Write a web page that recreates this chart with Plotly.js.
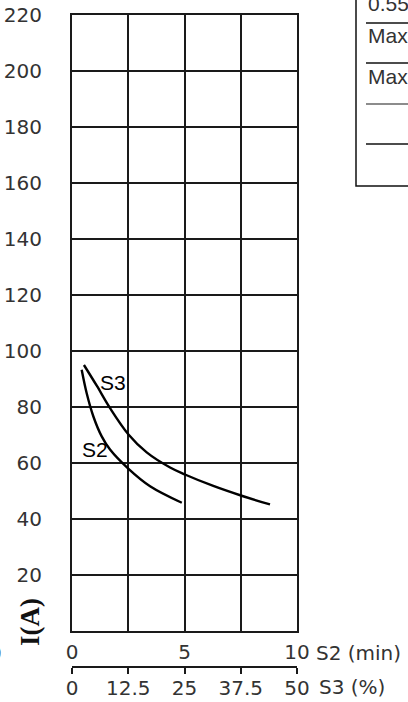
<!DOCTYPE html>
<html>
<head>
<meta charset="utf-8">
<script src="https://cdn.plot.ly/plotly-3.0.1.min.js"></script>
<style>html,body{margin:0;padding:0;background:#fff;}#chart{width:408px;height:702px;}</style>
</head>
<body>
<div id="chart"></div>
<script>
// Data
const s2X = [0.43, 0.65, 0.95, 1.32, 1.69, 2.50, 3.47, 4.88];
const s2Y = [93.3, 85.0, 76.6, 69.5, 64.8, 58.0, 51.7, 45.8];
const s3X = [0.53, 1.10, 1.69, 2.50, 3.32, 4.36, 5.02, 6.28, 7.54, 8.80];
const s3Y = [95.0, 87.6, 79.6, 70.3, 63.8, 58.4, 55.9, 51.8, 48.3, 45.2];
const yTicks = [0, 20, 40, 60, 80, 100, 120, 140, 160, 180, 200, 220];
const yTickText = ["", "20", "40", "60", "80", "100", "120", "140", "160", "180", "200", "220"];
const x1Ticks = [0, 2.5, 5, 7.5, 10];
const x1TickText = ["0", "", "5", "", "10"];
const x2Ticks = [0, 12.5, 25, 37.5, 50];
const x2TickText = ["0", "12.5", "25", "37.5", "50"];
const boxTexts = ["0.55 kW", "Max. 10 min", "Max. 50 %"];

const W = 408, H = 702;
const mL = 72, mR = 111, mT = 15, mB = 30;
const pw = W - mL - mR, ph = H - mT - mB;
const px = v => (v - mL) / pw;          // pixel x -> paper
const py = v => (H - mB - v) / ph;      // pixel y -> paper

const tickFont = {family: "DejaVu Sans", size: 20, color: "#333"};
const lineStyle = {color: "#000", width: 2.4, shape: "spline", smoothing: 1};

const traces = [
  {x: s2X, y: s2Y, mode: "lines", line: lineStyle, hoverinfo: "skip", xaxis: "x", yaxis: "y"},
  {x: s3X, y: s3Y, mode: "lines", line: lineStyle, hoverinfo: "skip", xaxis: "x", yaxis: "y"},
  {x: [0, 50], y: [null, null], xaxis: "x2", yaxis: "y", mode: "lines", hoverinfo: "skip", showlegend: false}
];

const boxLines = [23, 63, 104, 144];
const boxLineColors = ["#111", "#111", "#666", "#111"];
const shapes = [
  {type: "rect", xref: "paper", yref: "paper", x0: px(356), x1: px(420), y0: py(186), y1: py(-10),
   line: {color: "#111", width: 1.5}, fillcolor: "rgba(0,0,0,0)"}
];
boxLines.forEach((yy, i) => shapes.push({type: "line", xref: "paper", yref: "paper",
  x0: px(366), x1: px(420), y0: py(yy), y1: py(yy), line: {color: boxLineColors[i], width: 1.5}}));

const boxFont = {family: "Liberation Sans", size: 21, color: "#333"};
const annotations = [
  {text: "S3", x: 1.82, y: 88.6, xref: "x", yref: "y", showarrow: false, font: {family: "Liberation Sans", size: 21, color: "#000"}},
  {text: "S2", x: 1.02, y: 64.8, xref: "x", yref: "y", showarrow: false, font: {family: "Liberation Sans", size: 21, color: "#000"}},
  {text: "S2 (min)", xref: "paper", yref: "paper", x: px(314), y: py(653), xanchor: "left", yanchor: "middle", showarrow: false, font: tickFont},
  {text: "S3 (%)", xref: "paper", yref: "paper", x: px(317), y: py(687), xanchor: "left", yanchor: "middle", showarrow: false, font: tickFont},
  {text: "0", xref: "paper", yref: "paper", x: px(4), y: py(653), xanchor: "right", yanchor: "middle", showarrow: false, font: tickFont},
  {text: "<b>I(A)</b>", xref: "paper", yref: "paper", x: px(30), y: py(622), textangle: -90, xanchor: "center", yanchor: "middle", showarrow: false,
   font: {family: "Liberation Serif", size: 27, color: "#111"}},
  {text: boxTexts[0], xref: "paper", yref: "paper", x: px(366), y: py(3), xanchor: "left", yanchor: "middle", showarrow: false, font: boxFont},
  {text: boxTexts[1], xref: "paper", yref: "paper", x: px(366), y: py(35), xanchor: "left", yanchor: "middle", showarrow: false, font: boxFont},
  {text: boxTexts[2], xref: "paper", yref: "paper", x: px(366), y: py(76), xanchor: "left", yanchor: "middle", showarrow: false, font: boxFont}
];

const layout = {
  width: W, height: H,
  margin: {l: mL, r: mR, t: mT, b: mB, pad: 0},
  paper_bgcolor: "#fff", plot_bgcolor: "#fff",
  showlegend: false,
  xaxis: {
    range: [0, 10], tickvals: x1Ticks, ticktext: x1TickText, ticks: "",
    showgrid: true, gridcolor: "#1a1a1a", gridwidth: 2, zeroline: false,
    showline: true, linecolor: "#1a1a1a", linewidth: 2, mirror: true,
    tickfont: tickFont, ticklabelstandoff: 2, anchor: "y", fixedrange: true
  },
  xaxis2: {
    range: [0, 50], tickvals: x2Ticks, ticktext: x2TickText, ticks: "outside", ticklen: 6, tickwidth: 2, tickcolor: "#1a1a1a",
    showgrid: false, zeroline: false, showline: true, linecolor: "#1a1a1a", linewidth: 2,
    overlaying: "x", anchor: "free", position: py(667), side: "bottom",
    tickfont: tickFont, ticklabelstandoff: -3, fixedrange: true
  },
  yaxis: {
    range: [0, 220], domain: [py(631), 1], tickvals: yTicks, ticktext: yTickText, ticks: "",
    showgrid: true, gridcolor: "#1a1a1a", gridwidth: 2, zeroline: false,
    showline: true, linecolor: "#1a1a1a", linewidth: 2, mirror: true,
    tickfont: tickFont, ticklabelstandoff: 24, fixedrange: true
  },
  shapes: shapes,
  annotations: annotations
};

Plotly.newPlot("chart", traces, layout, {displayModeBar: false});
</script>
</body>
</html>
